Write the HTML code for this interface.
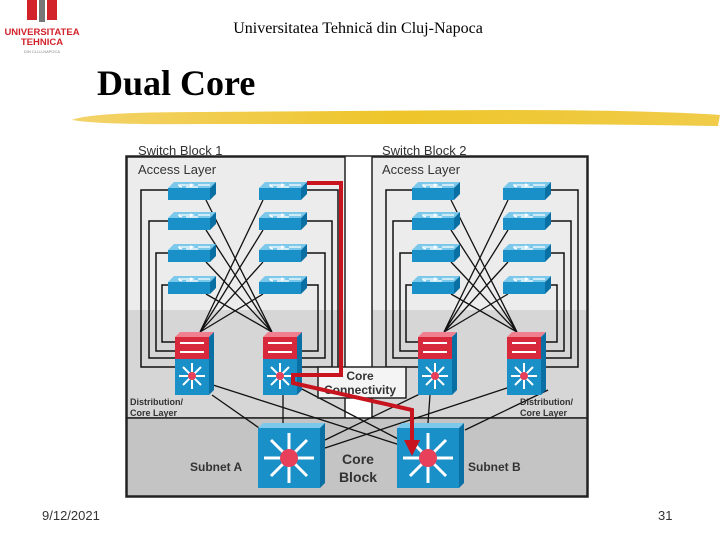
<!DOCTYPE html>
<html><head><meta charset="utf-8"><style>
html,body{margin:0;padding:0;background:#fff;}
body{width:720px;height:540px;position:relative;overflow:hidden;font-family:"Liberation Sans",sans-serif;}
</style></head><body>
<svg width="720" height="540" viewBox="0 0 720 540" xmlns="http://www.w3.org/2000/svg">
<defs>
<linearGradient id="gold" x1="0" x2="1"><stop offset="0" stop-color="#f3d36a"/><stop offset="0.5" stop-color="#eec52a"/><stop offset="1" stop-color="#f0cc4a"/></linearGradient>
<g id="acc">
<polygon points="0,6 6,0 48,0 42,6" fill="#7cc8ea"/>
<polygon points="42,6 48,0 48,12 42,18" fill="#0a6fa3"/>
<rect x="0" y="6" width="42" height="12" fill="#1a90c8"/>
<path d="M10,3h14M22,2l3,1-3,1M30,3h12M14,5l-3-1 M30,5h-12" stroke="#fff" stroke-width="1.2" fill="none"/>
</g>
<g id="dist">
<polygon points="0,5 5,0 39,0 34,5" fill="#f08090"/>
<polygon points="34,5 39,0 39,58 34,63" fill="#0a6fa3"/>
<rect x="0" y="5" width="34" height="22" fill="#d8283c"/>
<path d="M5,11h24M5,20h24" stroke="#fff" stroke-width="2"/>
<rect x="0" y="27" width="34" height="36" fill="#1a90c8"/>
<g stroke="#fff" stroke-width="2"><path d="M17,31v26M4,44h26M8,35l18,18M26,35l-18,18"/></g>
<circle cx="17" cy="44" r="4" fill="#e8405a"/>
</g>
<g id="core">
<polygon points="0,5 5,0 67,0 62,5" fill="#7cc8ea"/>
<polygon points="62,5 67,0 67,60 62,65" fill="#0a6fa3"/>
<rect x="0" y="5" width="62" height="60" fill="#1a90c8"/>
<g stroke="#fff" stroke-width="3"><path d="M31,10v50M6,35h50M13,17l36,36M49,17l-36,36"/></g>
<circle cx="31" cy="35" r="9" fill="#e8405a"/>
</g>
</defs>

<!-- logo -->
<rect x="27" y="0" width="10" height="20" fill="#d2232a"/>
<rect x="39" y="0" width="6" height="22" fill="#777"/>
<rect x="47" y="0" width="10" height="20" fill="#d2232a"/>
<text x="42" y="35" font-size="9.5" font-weight="bold" fill="#d2232a" text-anchor="middle">UNIVERSITATEA</text>
<text x="42" y="45" font-size="9.5" font-weight="bold" fill="#d2232a" text-anchor="middle">TEHNICA</text>
<text x="42" y="53" font-size="4" fill="#888" text-anchor="middle">DIN CLUJ-NAPOCA</text>

<text x="358" y="33" font-family="Liberation Serif,serif" font-size="16" text-anchor="middle">Universitatea Tehnică din Cluj-Napoca</text>
<text x="97" y="95" font-family="Liberation Serif,serif" font-size="36" font-weight="bold">Dual Core</text>
<path d="M72,120 Q90,112 200,112 L500,110 Q650,110 720,115 L718,126 Q600,124 500,124 L200,124 Q100,125 72,120Z" fill="url(#gold)"/>

<!-- diagram -->
<rect x="126" y="156" width="462" height="341" fill="#fff" stroke="#222" stroke-width="1.5"/>
<rect x="127" y="157" width="218" height="153" fill="#ececec"/>
<rect x="127" y="310" width="218" height="108" fill="#d6d6d6"/>
<rect x="372" y="157" width="215" height="153" fill="#ececec"/>
<rect x="372" y="310" width="215" height="108" fill="#d6d6d6"/>
<rect x="127" y="157" width="218" height="261" fill="none" stroke="#222" stroke-width="1.5"/>
<rect x="372" y="157" width="215" height="261" fill="none" stroke="#222" stroke-width="1.5"/>
<rect x="127" y="418" width="460" height="78" fill="#c4c4c4" stroke="#222" stroke-width="1.5"/>

<text x="138" y="155" font-size="13" fill="#333">Switch Block 1</text>
<text x="138" y="174" font-size="13" fill="#333">Access Layer</text>
<text x="382" y="155" font-size="13" fill="#333">Switch Block 2</text>
<text x="382" y="174" font-size="13" fill="#333">Access Layer</text>

<g fill="none" stroke="#111" stroke-width="1.5">
<!-- block1 loops -->
<path d="M168,190H141V367H175"/><path d="M168,221H149V358H175"/><path d="M168,253H156V351H175"/><path d="M168,285H162V342H175"/>
<path d="M307,221H332V367H302"/><path d="M307,253H325V358H302"/><path d="M307,285H318V351H302"/><path d="M307,190H338V372"/>
<!-- block2 loops -->
<path d="M412,190H386V367H418"/><path d="M412,221H393V358H418"/><path d="M412,253H400V351H418"/><path d="M412,285H406V342H418"/>
<path d="M550,190H578V367H545"/><path d="M550,221H571V358H545"/><path d="M550,253H564V351H545"/><path d="M550,285H557V342H545"/>
</g>
<g stroke="#111" stroke-width="1.3">
<!-- crossing block1 -->
<path d="M206,200L272,332M206,230L272,332M206,262L272,332M206,294L272,332M263,200L200,332M263,230L200,332M263,262L200,332M263,294L200,332"/>
<path d="M451,200L517,332M451,230L517,332M451,262L517,332M451,294L517,332M508,200L444,332M508,230L444,332M508,262L444,332M508,294L444,332"/>
<!-- lower lines -->
<path d="M213,385L400,445M212,395L262,430M283,395L283,423M300,388L400,440"/>
<path d="M428,390L325,440M430,395L428,423M510,387L325,448M548,390L465,430"/>
</g>

<g>
<use href="#acc" x="168" y="182"/><use href="#acc" x="168" y="212"/><use href="#acc" x="168" y="244"/><use href="#acc" x="168" y="276"/>
<use href="#acc" x="259" y="182"/><use href="#acc" x="259" y="212"/><use href="#acc" x="259" y="244"/><use href="#acc" x="259" y="276"/>
<use href="#acc" x="412" y="182"/><use href="#acc" x="412" y="212"/><use href="#acc" x="412" y="244"/><use href="#acc" x="412" y="276"/>
<use href="#acc" x="503" y="182"/><use href="#acc" x="503" y="212"/><use href="#acc" x="503" y="244"/><use href="#acc" x="503" y="276"/>
</g>
<use href="#dist" x="175" y="332"/><use href="#dist" x="263" y="332"/>
<use href="#dist" x="418" y="332"/><use href="#dist" x="507" y="332"/>

<rect x="318" y="367" width="88" height="31" fill="#f4f4f4" stroke="#222" stroke-width="1.5"/>
<text x="360" y="380" font-size="12" font-weight="bold" fill="#333" text-anchor="middle">Core</text>
<text x="360" y="394" font-size="12" font-weight="bold" fill="#333" text-anchor="middle">Connectivity</text>

<use href="#core" x="258" y="423"/><use href="#core" x="397" y="423"/>

<path d="M307,183H341V375H293V383L412,410V445" fill="none" stroke="#c8141e" stroke-width="4" stroke-linejoin="miter"/>
<polygon points="404,440 420,440 412,456" fill="#c8141e"/>

<text x="130" y="405" font-size="9" font-weight="bold" fill="#333">Distribution/</text>
<text x="130" y="416" font-size="9" font-weight="bold" fill="#333">Core Layer</text>
<text x="520" y="405" font-size="9" font-weight="bold" fill="#333">Distribution/</text>
<text x="520" y="416" font-size="9" font-weight="bold" fill="#333">Core Layer</text>
<text x="190" y="471" font-size="12" font-weight="bold" fill="#333">Subnet A</text>
<text x="468" y="471" font-size="12" font-weight="bold" fill="#333">Subnet B</text>
<text x="358" y="464" font-size="14" font-weight="bold" fill="#333" text-anchor="middle">Core</text>
<text x="358" y="482" font-size="14" font-weight="bold" fill="#333" text-anchor="middle">Block</text>

<text x="42" y="520" font-size="13" fill="#333">9/12/2021</text>
<text x="658" y="520" font-size="13" fill="#333">31</text>
</svg>
</body></html>
